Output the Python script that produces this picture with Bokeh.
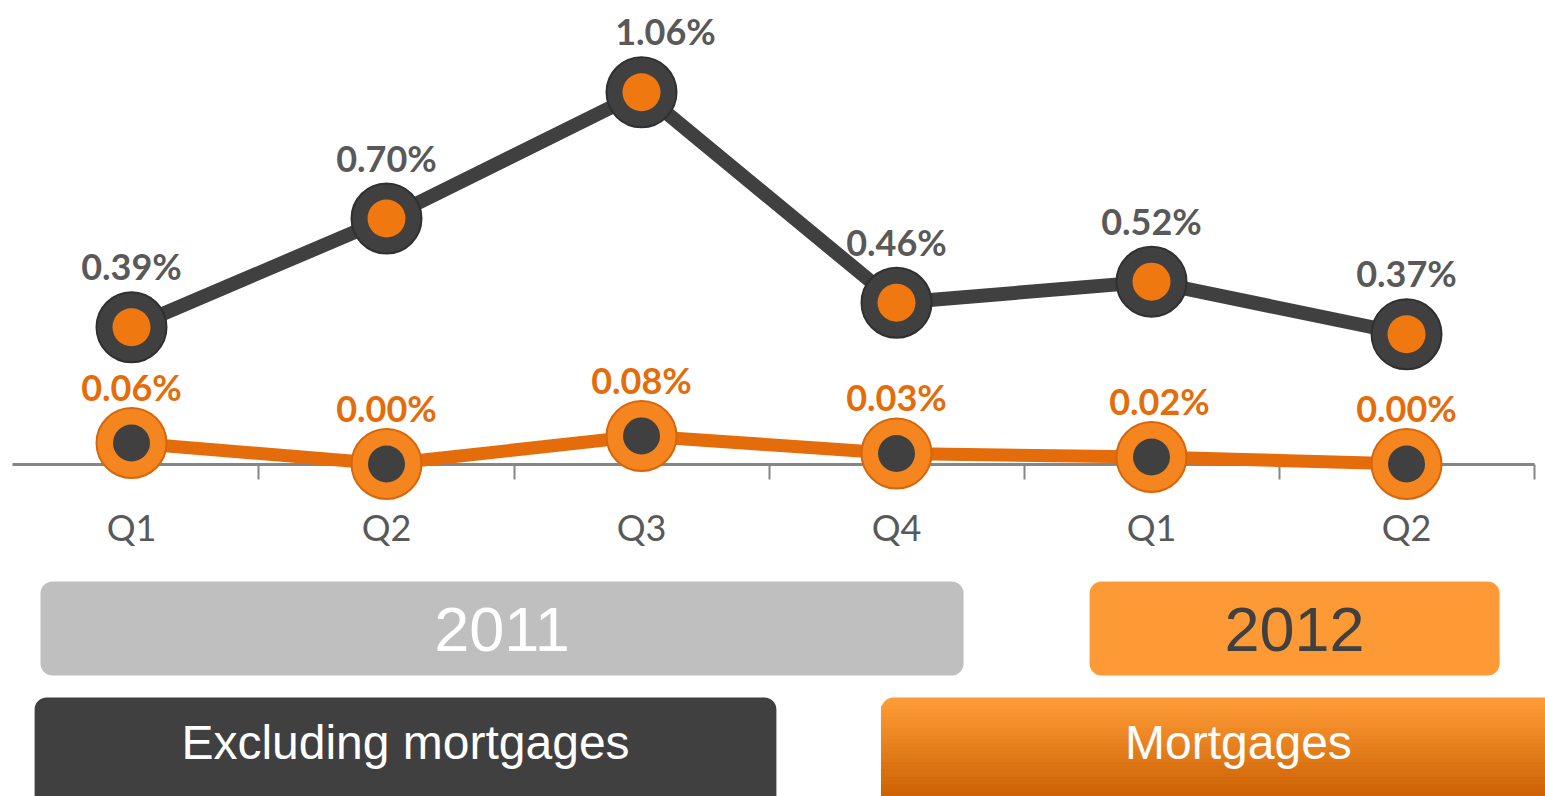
import numpy as np
from bokeh.plotting import figure
from bokeh.models import FixedTicker, BoxAnnotation, Label
from bokeh.core.properties import value
from bokeh.embed import file_html
from bokeh.resources import INLINE

# ---- data ----
quarters = ["Q1", "Q2", "Q3", "Q4", "Q1", "Q2"]
years = ["2011", "2012"]
series_names = ["Excluding mortgages", "Mortgages"]
excl_mortgages = [0.39, 0.70, 1.06, 0.46, 0.52, 0.37]
mortgages = [0.06, 0.00, 0.08, 0.03, 0.02, 0.00]

# ---- styles ----
DARK = "#404040"
ORANGE = "#F07810"
ORANGE_LINE = "#E46C0A"
LABEL_GREY = "#595959"

x = list(range(len(quarters)))

p = figure(width=1545, height=796, x_range=(-0.5137, 5.545), y_range=(-0.948, 1.3216),
           output_backend="svg", toolbar_location=None, min_border=0,
           y_axis_location=None)
p.outline_line_color = None
p.grid.visible = False

# x axis drawn at y = 0
ax = p.xaxis[0]
ax.fixed_location = 0
ax.level = "underlay"
ax.bounds = (-0.467, 5.5)
ax.ticker = FixedTicker(ticks=x, minor_ticks=[i + 0.5 for i in x])
ax.major_label_overrides = {i: q for i, q in zip(x, quarters)}
ax.axis_line_color = "#868686"
ax.axis_line_width = 3
ax.major_tick_line_color = None
ax.major_tick_in = 0
ax.major_tick_out = 0
ax.minor_tick_line_color = "#868686"
ax.minor_tick_line_width = 2
ax.minor_tick_in = 0
ax.minor_tick_out = 15
ax.major_label_standoff = 26
ax.major_label_text_font = "Lato"
ax.major_label_text_font_size = "36px"
ax.major_label_text_color = LABEL_GREY

# series: excluding mortgages
p.line(x, excl_mortgages, line_width=14, line_color=DARK)
p.scatter(x, excl_mortgages, size=70, fill_color=DARK, line_color="#303030", line_width=2)
p.scatter(x, excl_mortgages, size=38, fill_color=ORANGE, line_color=None)

# series: mortgages
p.line(x, mortgages, line_width=13, line_color=ORANGE_LINE)
p.scatter(x, mortgages, size=70, fill_color="#F5861F", line_color="#D9650A", line_width=2)
p.scatter(x, mortgages, size=37, fill_color=DARK, line_color=None)

# value labels
dx_excl = [0, 0, 24, 0, 0, 0]
dx_mort = [0, 0, 0, 0, 8, 0]
p.text(x, excl_mortgages, text=[f"{v:.2f}%" for v in excl_mortgages],
       x_offset=dx_excl, y_offset=-61, text_align="center", text_baseline="middle",
       text_font=value("Lato"), text_font_style="bold", text_font_size="36px",
       text_color=LABEL_GREY)
p.text(x, mortgages, text=[f"{v:.2f}%" for v in mortgages],
       x_offset=dx_mort, y_offset=-56, text_align="center", text_baseline="middle",
       text_font=value("Lato"), text_font_style="bold", text_font_size="36px",
       text_color=ORANGE_LINE)

# ---- year boxes ----
box_2011 = BoxAnnotation(left=-0.357, right=3.263, top=-0.335, bottom=-0.603,
                         fill_color="#BFBFBF", fill_alpha=1, line_color=None,
                         border_radius=12, level="underlay")
box_2012 = BoxAnnotation(left=3.757, right=5.365, top=-0.335, bottom=-0.603,
                         fill_color="#FD9A35", fill_alpha=1, line_color=None,
                         border_radius=12, level="underlay")
p.add_layout(box_2011)
p.add_layout(box_2012)
p.add_layout(Label(x=(-0.357 + 3.263) / 2, y=-0.472, text=years[0], text_align="center",
                   text_baseline="middle", text_font="Liberation Sans",
                   text_font_size="63px", text_color="white"))
p.add_layout(Label(x=(3.757 + 5.365) / 2, y=-0.472, text=years[1], text_align="center",
                   text_baseline="middle", text_font="Liberation Sans",
                   text_font_size="63px", text_color=DARK))

# ---- legend boxes ----
box_excl = BoxAnnotation(left=-0.380, right=2.529, top=-0.666, bottom=-1.0,
                         fill_color=DARK, fill_alpha=1, line_color=None,
                         border_radius=12, level="underlay")
box_mort = BoxAnnotation(left=2.941, right=5.7, top=-0.666, bottom=-1.0,
                         fill_color="#FD9A35", fill_alpha=1, line_color=None,
                         border_radius=12, level="underlay")
p.add_layout(box_excl)
p.add_layout(box_mort)

# gradient for mortgages box
n = 24
tops = np.linspace(-0.69, -0.948, n + 1)
c0 = np.array([0xFD, 0x9A, 0x35])
c1 = np.array([0xCC, 0x62, 0x04])
cols = []
for i in range(n):
    t = (i + 0.5) / n
    c = (c0 * (1 - t) + c1 * t).astype(int)
    cols.append("#%02X%02X%02X" % tuple(c))
bottoms = list(tops[1:])
bottoms[-1] = -1.0
p.quad(left=2.941, right=5.7, top=list(tops[:-1]), bottom=bottoms,
       fill_color=cols, line_color=cols, line_width=1)

p.add_layout(Label(x=(-0.380 + 2.529) / 2, y=-0.794, text=series_names[0], text_align="center",
                   text_baseline="middle", text_font="Liberation Sans",
                   text_font_size="48px", text_color="white"))
p.add_layout(Label(x=4.341, y=-0.794, text=series_names[1], text_align="center",
                   text_baseline="middle", text_font="Liberation Sans",
                   text_font_size="48px", text_color="white"))

open("out.html", "w").write(file_html(p, INLINE))
